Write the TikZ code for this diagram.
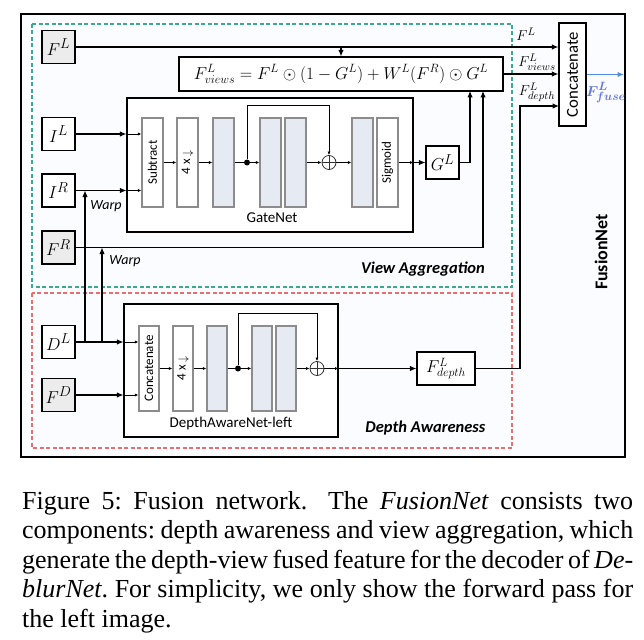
\documentclass[tikz,border=0pt]{standalone}
\usepackage{fontspec}
\usepackage{bm}
\setmainfont{Liberation Serif}
\setsansfont{Carlito}
\renewcommand\defaultscriptratio{.78}
\renewcommand\defaultscriptscriptratio{.6}
\usetikzlibrary{arrows.meta,calc}
\definecolor{bgin}{RGB}{250,252,255}
\definecolor{vagreen}{RGB}{60,170,140}
\definecolor{dared}{RGB}{235,110,110}
\definecolor{blkfill}{RGB}{230,234,242}
\definecolor{blkborder}{RGB}{140,140,140}
\definecolor{ingrayfill}{RGB}{236,236,236}
\definecolor{fuseblue}{RGB}{80,140,230}
\definecolor{fuselabel}{RGB}{100,120,220}
\begin{document}
\begin{tikzpicture}[x=1pt,y=-1pt,
  inbox/.style={draw,line width=1.2pt,minimum width=33pt,minimum height=33pt,inner sep=0pt,fill=white,font=\fontsize{18}{20}\selectfont},
  ingray/.style={inbox,fill=ingrayfill},
  blk/.style={draw=blkborder,line width=1.1pt,fill=white,minimum width=21pt,minimum height=89pt,inner sep=0pt},
  gblk/.style={blk,fill=blkfill},
  dblk/.style={blk,minimum width=20pt,minimum height=85pt},
  dgblk/.style={dblk,fill=blkfill},
  netbox/.style={draw,line width=1.1pt,fill=white,inner sep=0pt},
  conn/.style={line width=1.1pt,-{Latex[length=6.5pt,width=5.5pt]}},
  sconn/.style={line width=0.8pt,-{Latex[length=3.5pt,width=3pt]}},
  plain/.style={line width=1.1pt},
  rtext/.style={rotate=90,font=\sffamily\fontsize{13}{14}\selectfont,inner sep=0pt},
  opl/.style={circle,draw=black!80,line width=0.8pt,minimum size=14pt,inner sep=0pt},
  dotn/.style={circle,fill=black,minimum size=6pt,inner sep=0pt},
  smlab/.style={font=\fontsize{14}{16}\selectfont,inner sep=0pt},
  warp/.style={font=\sffamily\itshape\fontsize{14}{16}\selectfont,inner sep=0pt},
  seclab/.style={font=\sffamily\bfseries\itshape\fontsize{16.5}{18}\selectfont,inner sep=0pt}
]
\useasboundingbox (0,0) rectangle (644,639);
% outer box
\draw[line width=1.5pt,fill=bgin] (21,14) rectangle (625,457);
\draw[vagreen,dashed,line width=1.1pt,dash pattern=on 4pt off 2.5pt] (32,24) rectangle (512,287);
\draw[dared,dashed,line width=1.1pt,dash pattern=on 4pt off 2.5pt] (32,293) rectangle (512,448);

% inputs
\node[ingray] (FL) at (58.5,47) {$F^L$};
\node[inbox] (IL) at (58.5,134) {$I^L$};
\node[inbox] (IR) at (58.5,190.5) {$I^R$};
\node[ingray] (FR) at (58.5,247.5) {$F^R$};
\node[inbox] (DL) at (58.5,342) {$D^L$};
\node[ingray] (FD) at (58.5,395) {$F^D$};

% equation
\node[draw,line width=1.1pt,fill=white,minimum width=324pt,minimum height=34pt,inner sep=0pt,font=\fontsize{16.5}{18}\selectfont] (eq) at (341,74)
  {$F^L_{views}=F^L\odot(1-G^L)+W^L(F^R)\odot G^L$};

% GateNet
\node[netbox,minimum width=286pt,minimum height=134pt] (gate) at (270,165) {};
\node[blk] (sub) at (152.5,162.5) {};
\node[rtext] at (sub) {Subtract};
\node[blk] (down) at (187.5,162.5) {};
\node[rtext] at (down) {4 x\,\raisebox{-1pt}{\large$\downarrow$}};
\node[gblk] (g1) at (223.5,162.5) {};
\node[dotn] (dot) at (247,162.5) {};
\node[gblk] (g2) at (270.5,162.5) {};
\node[gblk] (g3) at (295.5,162.5) {};
\node[opl] (op) at (329,162.5) {};
\draw[line width=0.8pt,black!80] (op.north)--(op.south) (op.west)--(op.east);
\node[gblk] (g4) at (362.5,162.5) {};
\node[blk] (sig) at (387.5,162.5) {};
\node[rtext] at (sig) {Sigmoid};
\node[font=\sffamily\fontsize{15}{17}\selectfont,inner sep=0pt] at (272,218) {GateNet};
\node[inbox] (GL) at (442.5,162.5) {$G^L$};

\draw[sconn] (sub.east) -- (down.west);
\draw[sconn] (down.east) -- (g1.west);
\draw[plain,line width=0.8pt] (g1.east) -- (dot);
\draw[sconn] (dot) -- (g2.west);
\draw[sconn] (g3.east) -- (op.west);
\draw[sconn] (op.east) -- (g4.west);
\draw[sconn] (dot) -- (247,105) -| (op.north);
\draw[sconn] (sig.east) -- (sig.east -| gate.east);
\draw[conn] (sig.east -| gate.east) -- (GL.west);

% concatenate
\node[draw,line width=1.1pt,fill=white,minimum width=27pt,minimum height=103pt,inner sep=0pt] (cat) at (572.5,74.5) {};
\node[rotate=90,font=\sffamily\fontsize{16.7}{18}\selectfont,inner sep=0pt] at (cat) {Concatenate};

% DepthAwareNet
\node[netbox,minimum width=214pt,minimum height=133pt] (dan) at (231,370.5) {};
\node[dblk] (dcat) at (149,368.5) {};
\node[rtext] at (dcat) {Concatenate};
\node[dblk] (ddown) at (183,368.5) {};
\node[rtext] at (ddown) {4 x\,\raisebox{-1pt}{\large$\downarrow$}};
\node[dgblk] (d1) at (217,368.5) {};
\node[dotn] (ddot) at (238,368.5) {};
\node[dgblk] (d2) at (262,368.5) {};
\node[dgblk] (d3) at (286,368.5) {};
\node[opl] (dop) at (317,368.5) {};
\draw[line width=0.8pt,black!80] (dop.north)--(dop.south) (dop.west)--(dop.east);
\node[font=\sffamily\fontsize{15}{17}\selectfont,inner sep=0pt] at (231,423) {DepthAwareNet-left};
\node[inbox,minimum width=58pt,font=\fontsize{16}{18}\selectfont] (fdep) at (446,368.5) {$F^L_{depth}$};

\draw[sconn] (dcat.east) -- (ddown.west);
\draw[sconn] (ddown.east) -- (d1.west);
\draw[plain,line width=0.8pt] (d1.east) -- (ddot);
\draw[sconn] (ddot) -- (d2.west);
\draw[sconn] (d3.east) -- (dop.west);
\draw[sconn] (ddot) -- (238,313) -| (dop.north);
\draw[sconn] (dop.east) -- (dop.east -| dan.east);
\draw[conn] (dop.east -| dan.east) -- (fdep.west);

% input connectors
\draw[conn] (IL.east) -- (IL.east -| gate.west);
\draw[sconn] (IL.east -| gate.west) -- (IL.east -| sub.west);
\draw[conn] (IR.east) -- (IR.east -| gate.west);
\draw[sconn] (IR.east -| gate.west) -- (IR.east -| sub.west);
\draw[conn] (DL.east) -- (DL.east -| dan.west);
\draw[sconn] (DL.east -| dan.west) -- (DL.east -| dcat.west);
\draw[conn] (FD.east) -- (FD.east -| dan.west);
\draw[sconn] (FD.east -| dan.west) -- (FD.east -| dcat.west);

% warps
\coordinate (w1) at (85,342);
\coordinate (w2) at (102,342);
\draw[conn] (w1) -- (w1 |- IR.east);
\draw[conn] (w2) -- (w2 |- FR.east);
\node[warp] at (106,206) {Warp};
\node[warp] at (125,261) {Warp};

% top connectors
\coordinate (eqb1) at (470,91);
\coordinate (eqb2) at (483,91);
\draw[conn] (FL.east) -- (FL.east -| cat.west);
\draw[conn] (FL.east -| eq.north) -- (eq.north);
\draw[conn] (GL.east) -| (eqb1);
\draw[conn] (FR.east) -| (eqb2);
\draw[conn] (eq.east) -- (eq.east -| cat.west);
\coordinate (cd) at (559,106);
\draw[conn] (fdep.east) -| (520,106) -- (cd);
\coordinate (out) at (624,74.5);
\draw[conn,fuseblue,line width=1.4pt] (cat.east) -- (out);

% labels
\node[smlab] at (526,34) {$F^L$};
\node[smlab] at (537,62) {$F^L_{views}$};
\node[smlab] at (537,92) {$F^L_{depth}$};
\node[inner sep=0pt,text=fuselabel,font=\fontsize{15}{18}\selectfont\boldmath] at (606,93) {$F^L_{fuse}$};
\node[rotate=90,font=\sffamily\bfseries\fontsize{18}{20}\selectfont,inner sep=0pt] at (601,252) {FusionNet};
\node[seclab] at (423,269) {View Aggregation};
\node[seclab] at (425.5,428) {Depth Awareness};

% caption
\node[anchor=base west,inner sep=0pt] at (22,509) {\parbox[t]{611pt}{\fontsize{26}{29.6}\selectfont\frenchspacing\tolerance=10000\emergencystretch=20pt
Figure 5: Fusion network.\hspace{0.35em} The \textit{FusionNet} consists two\linebreak
components: depth awareness and view aggregation, which\linebreak
generate the depth-view fused feature for the decoder of \textit{De-}\linebreak
\textit{blurNet}. For simplicity, we only show the forward pass for\linebreak
the left image.}};
\end{tikzpicture}
\end{document}
